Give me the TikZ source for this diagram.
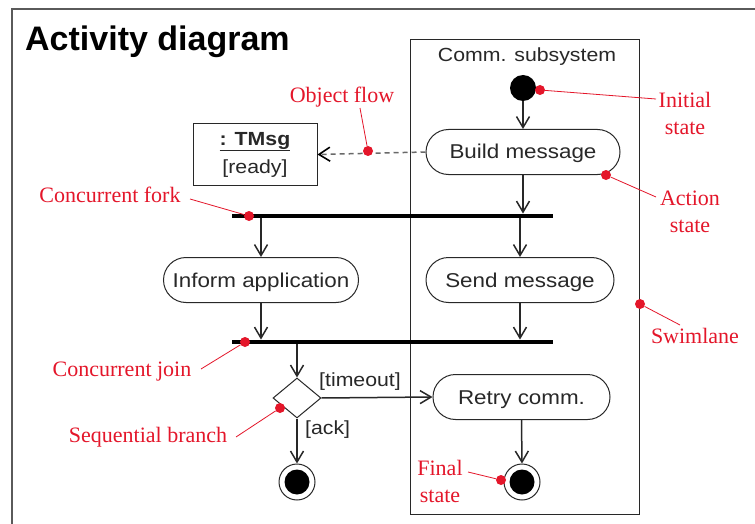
\documentclass[tikz,border=0pt]{standalone}
\usepackage{fontspec}
\setmainfont{Liberation Serif}
\newfontfamily\dsans[FakeStretch=1.12]{Liberation Sans}
\newfontfamily\tsans{Liberation Sans}
\usetikzlibrary{arrows.meta,shapes.misc,shapes.geometric}
\definecolor{annot}{RGB}{228,22,42}
\definecolor{ink}{RGB}{40,40,40}
\definecolor{framegray}{RGB}{90,90,90}
\definecolor{dashgray}{RGB}{105,105,105}

\begin{document}
\begin{tikzpicture}[x=1pt,y=-1pt,
  action/.style={draw=ink, line width=1pt, rounded rectangle, minimum height=45pt,
    inner sep=0pt, text height=15pt, text depth=1pt,
    font=\dsans\fontsize{20}{24}\selectfont, text=ink},
  bar/.style={fill=black, inner sep=0pt, minimum width=321pt, minimum height=4.5pt},
  flow/.style={draw=ink, line width=1.5pt,
    -{Straight Barb[length=11pt,width=13pt,line width=1.5pt]}},
  startdot/.style={circle, fill=black, minimum size=26pt, inner sep=0pt},
  enddot/.style={circle, draw=ink, line width=1pt, minimum size=36pt, inner sep=0pt,
    path picture={\fill[black] (path picture bounding box.center) circle (12.5pt);}},
  note/.style={font=\fontsize{22}{27}\selectfont, text=annot, align=center, inner sep=0pt},
  pin/.style={circle, fill=annot, inner sep=0pt, minimum size=10pt},
  leader/.style={draw=annot, line width=0.8pt},
  guard/.style={font=\dsans\fontsize{19}{22}\selectfont, text=ink, inner sep=1pt}]

\useasboundingbox (0,0) rectangle (755,524);
\fill[white] (0,0) rectangle (755,524);

% outer frame (left and top edges)
\draw[framegray, line width=2pt] (12,524) -- (12,9) -- (755,9);

% title
\node[anchor=base west, inner sep=0pt, text=black,
  font=\tsans\bfseries\fontsize{34}{34}\selectfont] (title) at (25,51) {Activity diagram};

% swimlane
\node[draw=ink, line width=1pt, minimum width=229pt, minimum height=474pt, inner sep=0pt]
  (lane) at (524.5,277) {};
\node[font=\dsans\fontsize{19}{22}\selectfont, text=ink, inner sep=0pt] (lanename)
  at (527,57) {Comm. subsystem};

% states
\node[startdot] (init) at (523,88) {};
\node[action, minimum width=194pt] (build) at (523,152) {Build message};
\node[bar] (fork) at (392.5,216) {};
\node[action, minimum width=195pt] (inf) at (261,280) {Inform application};
\node[action, minimum width=188pt] (send) at (520,280) {Send message};
\node[bar] (join) at (392.5,342) {};
\node[diamond, draw=ink, line width=1pt, minimum width=48pt, minimum height=40pt,
  inner sep=0pt] (dec) at (297,398) {};
\node[action, minimum width=177pt] (retry) at (521.5,397) {Retry comm.};
\node[enddot] (fin1) at (297,482) {};
\node[enddot] (fin2) at (522,482) {};

% object
\node[draw=ink, line width=1pt, minimum width=124pt, minimum height=61pt, align=center,
  font=\dsans\fontsize{19}{28}\selectfont, text=ink] (obj) at (255,154.5)
  {\underline{\textbf{: TMsg}}\\{}[ready]};

% control flows
\draw[flow] (init) -- (build);
\draw[flow] (build.south) -- (build.south |- fork.north);
\draw[flow] (fork.south -| inf.north) -- (inf.north);
\draw[flow] (fork.south -| send.north) -- (send.north);
\draw[flow] (inf.south) -- (inf.south |- join.north);
\draw[flow] (send.south) -- (send.south |- join.north);
\draw[flow] (join.south -| dec.north) -- (dec.north);
\draw[flow] (dec.east) -- (retry.west);
\draw[flow] (dec.south) -- (fin1.north);
\draw[flow] (retry.south) -- (fin2.north);
\node[guard, anchor=south west] (tlabel) at (318,392) {[timeout]};
\node[guard, anchor=west] (alabel) at (304,430) {[ack]};

% object flow
\draw[dashgray, line width=1.5pt, dash pattern=on 5pt off 4pt,
  -{Straight Barb[length=11pt,width=14pt,line width=1.6pt,color=black]}] (build.west) -- (obj.east);

% annotations
\node[pin] (pobj) at (368,151) {};
\node[note] (lobj) at (342,97) {Object flow};
\draw[leader] (pobj) -- (360,108);

\node[pin] (pinit) at (540,90) {};
\node[note] (linit) at (685,113) {Initial\\state};
\draw[leader] (pinit) -- (656,99);

\node[pin] (pact) at (606,175) {};
\node[note] (lact) at (690,212) {Action\\state};
\draw[leader] (pact) -- (656,197);

\node[pin] (plane) at (640,304) {};
\node[note] (llane) at (695,336) {Swimlane};
\draw[leader] (plane) -- (680,325);

\node[pin] (pfork) at (249,216) {};
\node[note] (lfork) at (110,195) {Concurrent fork};
\draw[leader] (pfork) -- (190,199);

\node[pin] (pjoin) at (245,342) {};
\node[note] (ljoin) at (122,372) {Concurrent join};
\draw[leader] (pjoin) -- (201,369);

\node[pin] (pdec) at (280,408) {};
\node[note] (ldec) at (148,437) {Sequential branch};
\draw[leader] (pdec) -- (236,437);

\node[pin] (pfin) at (501,480) {};
\node[note] (lfin) at (440,481) {Final\\state};
\draw[leader] (pfin) -- (468,472);
\end{tikzpicture}
\end{document}
